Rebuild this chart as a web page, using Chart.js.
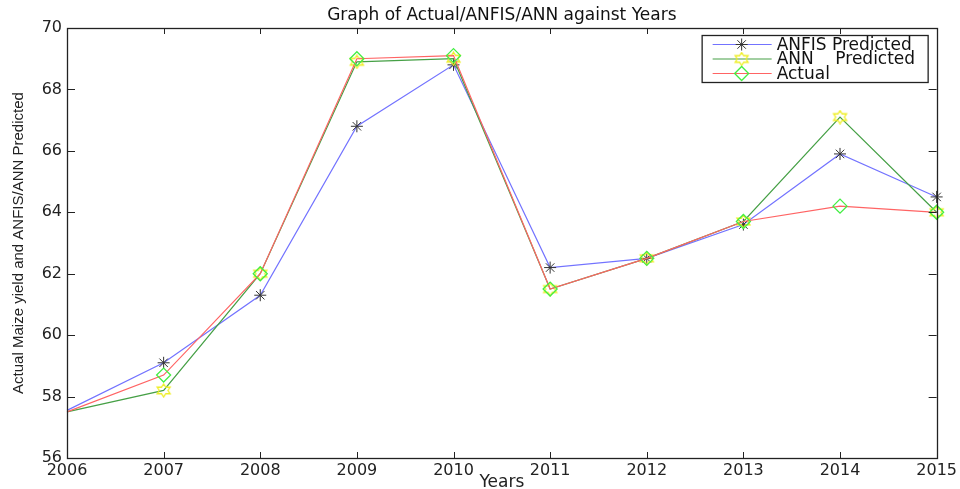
<!DOCTYPE html>
<html>
<head>
<meta charset="utf-8">
<script src="https://cdn.jsdelivr.net/npm/chart.js@4"></script>
<style>
  html, body { margin: 0; padding: 0; background: #fff; }
  #wrap { width: 960px; height: 489px; position: relative; }
</style>
</head>
<body>
<div id="wrap"><canvas id="graf"></canvas></div>
<script>
// data
const years = ['2006', '2007', '2008', '2009', '2010', '2011', '2012', '2013', '2014', '2015'];
const anfisPredicted = [57.55, 59.1, 61.3, 66.8, 68.8, 62.2, 62.5, 63.6, 65.9, 64.5];
const annPredicted = [57.5, 58.2, 62.0, 68.9, 69.0, 61.5, 62.5, 63.7, 67.1, 64.0];
const actualYield = [57.5, 58.7, 62.0, 69.0, 69.1, 61.5, 62.5, 63.7, 64.2, 64.0];
const seriesNames = ['ANFIS Predicted', 'ANN    Predicted', 'Actual'];
const yTicks = [56, 58, 60, 62, 64, 66, 68, 70];

const FONT = 'DejaVu Sans';

// yellow hexagram marker (matlab 'h')
function hexagram(color) {
  const c = document.createElement('canvas');
  c.width = 17; c.height = 15;
  const g = c.getContext('2d');
  const cx = 8.5, cy = 7.5, rx = 7.5, ry = 6.5;
  g.beginPath();
  for (let i = 0; i < 12; i++) {
    const a = -Math.PI / 2 + i * Math.PI / 6;
    const k = i % 2 === 0 ? 1 : 0.577;
    const px = cx + Math.cos(a) * rx * k;
    const py = cy + Math.sin(a) * ry * k;
    if (i === 0) g.moveTo(px, py); else g.lineTo(px, py);
  }
  g.closePath();
  g.strokeStyle = color;
  g.lineWidth = 1.3;
  g.stroke();
  return c;
}

// no marker on the first (clipped) point
const marks = r => years.map((y, i) => i === 0 ? 0 : r);

// inside ticks + box, like matlab axes
const boxPlugin = {
  id: 'box',
  afterDatasetsDraw(chart) {
    const { ctx, chartArea: a, scales } = chart;
    ctx.save();
    ctx.strokeStyle = '#222';
    ctx.lineWidth = 1;
    ctx.beginPath();
    yTicks.forEach(v => {
      const p = Math.round(scales.y.getPixelForValue(v)) + 0.5;
      ctx.moveTo(a.left, p); ctx.lineTo(a.left + 8, p);
      ctx.moveTo(a.right, p); ctx.lineTo(a.right - 8, p);
    });
    years.forEach((y, i) => {
      const p = Math.round(scales.x.getPixelForValue(i)) + 0.5;
      ctx.moveTo(p, a.bottom); ctx.lineTo(p, a.bottom - 6);
      ctx.moveTo(p, a.top); ctx.lineTo(p, a.top + 6);
    });
    ctx.stroke();
    ctx.lineWidth = 1.3;
    ctx.strokeRect(Math.round(a.left) + 0.5, Math.round(a.top) + 0.5,
      Math.round(a.right - a.left), Math.round(a.bottom - a.top));
    ctx.restore();
  }
};

// legend box top right with line + marker samples
const legendPlugin = {
  id: 'matlabLegend',
  afterDraw(chart) {
    const { ctx, chartArea: a } = chart;
    const right = a.right - 9, top = a.top + 7;
    const w = 226, h = 47;
    const left = right - w;
    ctx.save();
    ctx.fillStyle = '#fff';
    ctx.fillRect(left, top, w, h);
    ctx.strokeStyle = '#222';
    ctx.lineWidth = 1.3;
    ctx.strokeRect(left + 0.5, top + 0.5, w, h);
    ctx.font = '17px "' + FONT + '"';
    ctx.textBaseline = 'middle';
    chart.data.datasets.forEach((ds, i) => {
      const y = top + 9.5 + i * 14.5;
      ctx.strokeStyle = ds.borderColor;
      ctx.lineWidth = 1.2;
      ctx.beginPath();
      ctx.moveTo(left + 11, y); ctx.lineTo(left + 70, y);
      ctx.stroke();
      ctx.strokeStyle = ds.pointBorderColor;
      ctx.fillStyle = ds.pointBackgroundColor;
      ctx.lineWidth = ds.pointBorderWidth;
      Chart.helpers.drawPoint(ctx, {
        pointStyle: ds.pointStyle, radius: ds.legendRadius, borderWidth: ds.pointBorderWidth, rotation: 0
      }, left + 40, y);
      ctx.fillStyle = '#111';
      ctx.fillText(ds.label, left + 75, y + 1);
    });
    ctx.restore();
  }
};

new Chart(document.getElementById('graf').getContext('2d'), {
  type: 'line',
  data: {
    labels: years,
    datasets: [{
      label: seriesNames[0],
      data: anfisPredicted,
      borderColor: 'rgb(115,115,255)',
      borderWidth: 1.2,
      pointStyle: 'star',
      pointRadius: marks(6),
      legendRadius: 6,
      pointBorderColor: '#333',
      pointBackgroundColor: 'rgba(0,0,0,0)',
      pointBorderWidth: 1,
      order: 3
    }, {
      label: seriesNames[1],
      data: annPredicted,
      borderColor: 'rgb(70,160,70)',
      borderWidth: 1.2,
      pointStyle: hexagram('#eeee22'),
      pointRadius: marks(7),
      legendRadius: 7,
      pointBorderColor: '#eeee22',
      pointBackgroundColor: 'rgba(0,0,0,0)',
      pointBorderWidth: 1.3,
      order: 2
    }, {
      label: seriesNames[2],
      data: actualYield,
      borderColor: 'rgb(255,100,100)',
      borderWidth: 1.2,
      pointStyle: 'rectRot',
      pointRadius: marks(7),
      legendRadius: 7,
      pointBorderColor: '#44ee44',
      pointBackgroundColor: 'rgba(0,0,0,0)',
      pointBorderWidth: 1.3,
      order: 1
    }]
  },
  options: {
    responsive: true,
    maintainAspectRatio: false,
    animation: false,
    events: [],
    layout: { padding: { left: 0, right: 23, top: 0, bottom: 0 } },
    elements: { line: { tension: 0 } },
    plugins: {
      legend: { display: false },
      tooltip: { enabled: false },
      title: {
        display: true,
        fullSize: false,
        text: 'Graph of Actual/ANFIS/ANN against Years',
        color: '#111',
        font: { family: FONT, size: 17, weight: 'normal', lineHeight: 1.2 },
        padding: { top: 5, bottom: 2.6 }
      }
    },
    scales: {
      x: {
        type: 'category',
        offset: false,
        grid: { display: false, drawTicks: false },
        border: { display: false },
        ticks: { color: '#222', font: { family: FONT, size: 16 }, padding: 3, maxRotation: 0, autoSkip: false },
        title: {
          display: true, text: 'Years', color: '#222',
          font: { family: FONT, size: 17, lineHeight: 1 },
          padding: { top: 0, bottom: -2 }
        },
        afterFit(s) { s.height = 31; }
      },
      y: {
        min: 56, max: 70,
        grid: { display: false, drawTicks: false },
        border: { display: false },
        ticks: {
          color: '#222', font: { family: FONT, size: 16 }, padding: 5,
          stepSize: 2,
          callback: v => yTicks.includes(v) ? String(v) : ''
        },
        title: {
          display: true, text: 'Actual Maize yield and ANFIS/ANN Predicted', color: '#222',
          font: { family: 'Liberation Sans', size: 15, lineHeight: 1.2 },
          padding: { top: 10, bottom: 0 }
        },
        afterFit(s) { s.width = 67; }
      }
    }
  },
  plugins: [boxPlugin, legendPlugin]
});
</script>
</body>
</html>
